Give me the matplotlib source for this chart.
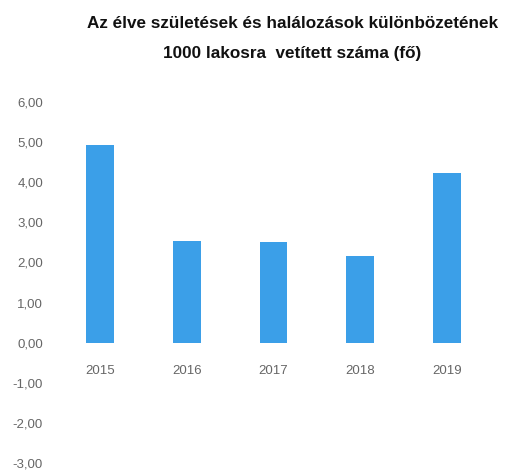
import matplotlib.pyplot as plt
from matplotlib.ticker import FuncFormatter

# --- Data ---
years = ['2015', '2016', '2017', '2018', '2019']
values = [4.92, 2.53, 2.52, 2.17, 4.24]
y_ticks = [-3, -2, -1, 0, 1, 2, 3, 4, 5, 6]

title = 'Az élve születések és halálozások különbözetének\n1000 lakosra  vetített száma (fő)'

plt.rcParams['font.family'] = ['Liberation Sans', 'DejaVu Sans']

fig = plt.figure(figsize=(5.11, 4.72), dpi=100)
ax = fig.add_axes([57 / 511, 9 / 472, 433 / 511, 361 / 472])

ax.bar(range(len(years)), values, width=0.32, color='#3b9fe8')

ax.set_xlim(-0.5, len(years) - 0.5)
ax.set_ylim(-3, 6)
ax.set_yticks(y_ticks)
ax.yaxis.set_major_formatter(FuncFormatter(lambda v, p: f'{v:.2f}'.replace('.', ',')))
ax.set_xticks(range(len(years)))
ax.set_xticklabels(years)

# category labels sit just under the zero line, like in Excel
ax.spines['bottom'].set_position(('data', 0))
for s in ax.spines.values():
    s.set_visible(False)
ax.tick_params(axis='both', length=0, colors='#666666', labelsize=9.5)
ax.tick_params(axis='x', pad=16)
ax.tick_params(axis='y', pad=10)

fig.text(0.572, 0.967, title, ha='center', va='top', fontsize=12.3, fontweight='bold',
         color='#111111', linespacing=2.25)

plt.savefig('out.png', dpi=100)
